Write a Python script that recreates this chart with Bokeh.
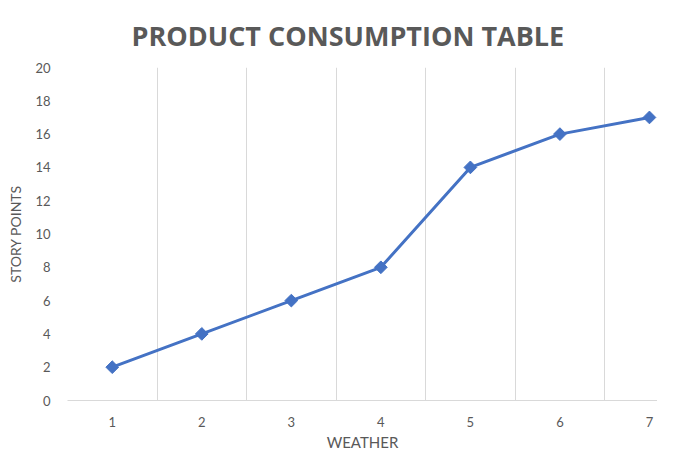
from bokeh.plotting import figure
from bokeh.models import FixedTicker, Range1d
from bokeh.embed import file_html
from bokeh.resources import INLINE

weather = [1, 2, 3, 4, 5, 6, 7]
story_points = [2, 4, 6, 8, 14, 16, 17]
y_ticks = [0, 2, 4, 6, 8, 10, 12, 14, 16, 18, 20]
title_text = "PRODUCT CONSUMPTION TABLE"
x_label = "WEATHER"
y_label = "STORY POINTS"

p = figure(width=657, height=453, output_backend="svg", toolbar_location=None,
           x_range=Range1d(0.5, 7.09), y_range=Range1d(0, 20),
           title=title_text,
           min_border_left=67, min_border_right=0, min_border_top=65, min_border_bottom=0)
p.outline_line_color = None
p.background_fill_color = "white"

p.title.align = "left"
p.title.offset = 64
p.title.standoff = 28
p.title.text_font = "Open Sans"
p.title.text_font_style = "bold"
p.title.text_font_size = "27px"
p.title.text_color = "#595959"

p.line(weather, story_points, line_color="#4472C4", line_width=3)
p.scatter(weather, story_points, marker="square", angle=0.785398, size=9,
          fill_color="#4472C4", line_color="#4472C4")

p.xaxis.ticker = FixedTicker(ticks=weather)
p.yaxis.ticker = FixedTicker(ticks=y_ticks)
p.xgrid.ticker = FixedTicker(ticks=[w - 0.5 for w in weather] + [7.5])
p.xgrid.grid_line_color = "#d9d9d9"
p.xgrid.grid_line_width = 1
p.ygrid.grid_line_color = None

for ax in (p.xaxis, p.yaxis):
    ax.major_tick_line_color = None
    ax.minor_tick_line_color = None
    ax.major_label_text_font = "Lato"
    ax.major_label_text_font_size = "13px"
    ax.major_label_text_color = "#595959"
    ax.axis_label_text_font = "Lato"
    ax.axis_label_text_font_style = "normal"
    ax.axis_label_text_color = "#595959"

p.xaxis.axis_label_text_font_size = "15px"
p.yaxis.axis_label_text_font_size = "14px"
p.xaxis.axis_line_color = "#d9d9d9"
p.yaxis.axis_line_color = None
p.xaxis.major_label_standoff = 10
p.yaxis.major_label_standoff = 11
p.xaxis.axis_label = x_label
p.yaxis.axis_label = y_label
p.xaxis.axis_label_standoff = 3
p.yaxis.axis_label_standoff = 8

open("out.html", "w").write(file_html(p, INLINE))
